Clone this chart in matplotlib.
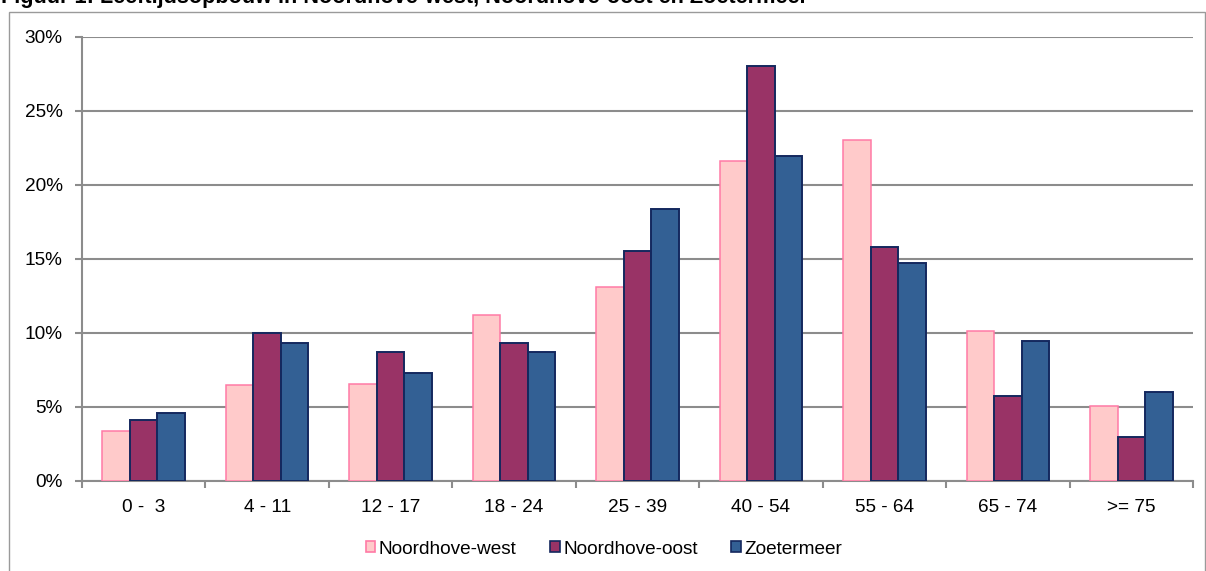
import matplotlib
matplotlib.use("Agg")
import matplotlib.pyplot as plt
import numpy as np
from matplotlib.patches import Rectangle, Patch

# Age groups and share of population per area (percent)
categories = ["0 -  3", "4 - 11", "12 - 17", "18 - 24", "25 - 39",
              "40 - 54", "55 - 64", "65 - 74", ">= 75"]
noordhove_west = [3.33, 6.47, 6.55, 11.18, 13.07, 21.6, 23.0, 10.11, 5.07]
noordhove_oost = [4.08, 10.0, 8.68, 9.32, 15.54, 28.04, 15.81, 5.74, 2.97]
zoetermeer = [4.57, 9.28, 7.30, 8.72, 18.34, 21.96, 14.69, 9.44, 5.99]
series_names = ["Noordhove-west", "Noordhove-oost", "Zoetermeer"]
y_ticks = [0, 5, 10, 15, 20, 25, 30]
title = "Figuur 1: Leeftijdsopbouw in Noordhove-west, Noordhove-oost en Zoetermeer"

plt.rcParams["font.family"] = ["Liberation Sans", "DejaVu Sans"]

W, H = 1206, 571
fig = plt.figure(figsize=(W / 100, H / 100), dpi=100)
fig.patch.set_facecolor("white")

grid_col = "#8c8c8c"
fills = ["#FFCACA", "#993366", "#336094"]
edges = ["#FF7AA6", "#14285E", "#14285E"]
edge_w = [1.1, 1.4, 1.4]

# Outer chart frame (bottom runs past the canvas edge)
fig.patches.append(Rectangle((9 / W, -0.1), (1205 - 9) / W, 1.1 - 12 / H,
                             transform=fig.transFigure, fill=False,
                             edgecolor="#9a9a9a", linewidth=1.0))

# Title, partly above the top edge of the canvas
fig.text(1 / W, 1 - 3.5 / H, title, fontsize=15.6, fontweight="bold",
         ha="left", va="baseline", color="black")

left, right = 82 / W, 1193 / W
bottom, top = (H - 480.7) / H, (H - 36.7) / H
ax = fig.add_axes([left, bottom, right - left, top - bottom])

x = np.arange(len(categories))
bw = 0.223
for i, vals in enumerate([noordhove_west, noordhove_oost, zoetermeer]):
    ax.bar(x + (i - 1) * bw, np.array(vals) / 100, width=bw,
           color=fills[i], edgecolor=edges[i], linewidth=edge_w[i], zorder=3)

ax.set_xlim(-0.5, len(categories) - 0.5)
ax.set_ylim(0, 0.30)
ax.set_yticks([v / 100 for v in y_ticks])
ax.set_yticklabels([f"{v}%" for v in y_ticks])
ax.yaxis.grid(True, color=grid_col, linewidth=1.5, zorder=0)
ax.set_axisbelow(True)

ax.set_xticks(np.arange(len(categories) + 1) - 0.5, minor=False)
ax.set_xticklabels([])
ax.set_xticks(x, minor=True)
ax.set_xticklabels(categories, minor=True)
ax.tick_params(axis="x", which="minor", length=0, pad=13, labelsize=13.7)
ax.tick_params(axis="x", which="major", length=5, width=1.5, color=grid_col)
ax.tick_params(axis="y", length=5, width=1.5, color=grid_col, pad=9,
               labelsize=13.7)

for side in ["top", "right"]:
    ax.spines[side].set_visible(False)
for side in ["left", "bottom"]:
    ax.spines[side].set_color(grid_col)
    ax.spines[side].set_linewidth(1.5)

handles = [Patch(facecolor=fills[i], edgecolor=edges[i], linewidth=1.2)
           for i in range(3)]
fig.legend(handles, series_names, loc="center", ncol=3,
           bbox_to_anchor=(604 / W, 1 - 549 / H), frameon=False,
           fontsize=13.7, handlelength=0.5, handleheight=0.5,
           handletextpad=0.2, columnspacing=1.75, borderpad=0)

fig.savefig("out.png", dpi=100, facecolor="white")
